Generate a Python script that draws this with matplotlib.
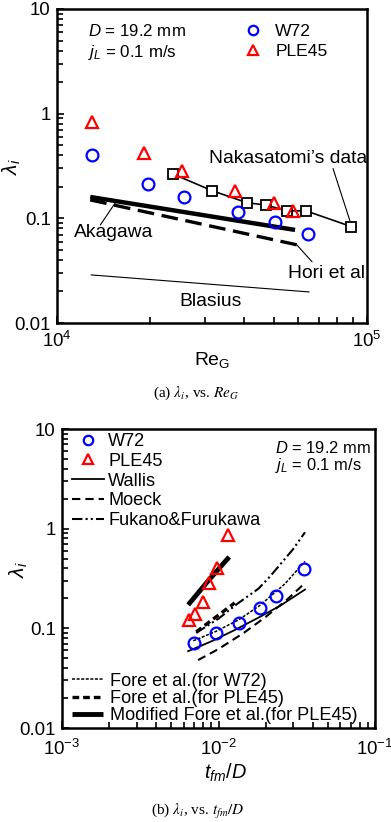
import numpy as np
import matplotlib
matplotlib.use("Agg")
import matplotlib.pyplot as plt
from matplotlib import font_manager
from matplotlib.ticker import FixedLocator, LogLocator, NullFormatter, FuncFormatter

# ---- panel (a): lambda_i vs Re_G ----
re_w72 = [1.30e4, 1.97e4, 2.57e4, 3.84e4, 5.05e4, 6.45e4]
lam_w72_a = [0.404, 0.212, 0.161, 0.114, 0.0916, 0.071]
re_ple45 = [1.30e4, 1.91e4, 2.53e4, 3.75e4, 5.0e4, 5.77e4]
lam_ple45_a = [0.84, 0.42, 0.286, 0.183, 0.139, 0.118]
re_naka = [2.37e4, 3.16e4, 4.1e4, 4.72e4, 5.52e4, 6.35e4, 8.9e4]
lam_naka = [0.265, 0.184, 0.141, 0.134, 0.118, 0.118, 0.0834]
re_akagawa = [1.28e4, 5.86e4]
lam_akagawa = [0.160, 0.0775]
re_hori = [1.28e4, 6.17e4]
lam_hori = [0.150, 0.0545]
re_blasius = [1.29e4, 6.50e4]
lam_blasius = [0.0288, 0.0198]

# ---- panel (b): lambda_i vs t_fm/D ----
tfm_w72 = [0.00697, 0.00964, 0.01352, 0.0184, 0.0233, 0.0352]
lam_w72_b = [0.0714, 0.090, 0.113, 0.160, 0.211, 0.394]
tfm_ple45 = [0.00649, 0.00708, 0.00796, 0.00869, 0.00977, 0.0115]
lam_ple45_b = [0.121, 0.139, 0.184, 0.285, 0.40, 0.865]
tfm_wallis = [0.0064, 0.009, 0.0125, 0.018, 0.025, 0.0357]
lam_wallis = [0.059, 0.074, 0.095, 0.128, 0.17, 0.245]
tfm_moeck = [0.0074, 0.010, 0.0145, 0.020, 0.027, 0.0357]
lam_moeck = [0.048, 0.062, 0.090, 0.13, 0.19, 0.285]
tfm_fukano = [0.0072, 0.0100, 0.0131, 0.018, 0.0213, 0.0299, 0.0357]
lam_fukano = [0.09, 0.125, 0.175, 0.25, 0.33, 0.62, 0.92]
tfm_fore_w72 = [0.0069, 0.0096, 0.0135, 0.0184, 0.0266, 0.0357]
lam_fore_w72 = [0.075, 0.093, 0.122, 0.17, 0.28, 0.47]
tfm_fore_ple45 = [0.0072, 0.0095, 0.0127]
lam_fore_ple45 = [0.092, 0.128, 0.18]
tfm_mod_fore = [0.0064, 0.0086, 0.0117]
lam_mod_fore = [0.172, 0.30, 0.52]

BLUE = "#0000ff"
RED = "#ff0000"

names = {f.name for f in font_manager.fontManager.ttflist}
if "Liberation Sans Narrow" in names:
    FONT, K = "Liberation Sans Narrow", 1.0
else:
    FONT, K = "Liberation Sans", 0.84

plt.rcParams.update({
    "font.family": [FONT, "DejaVu Sans"],
    "mathtext.fontset": "custom",
    "mathtext.rm": FONT,
    "mathtext.it": FONT + ":italic",
    "mathtext.sf": FONT,
    "mathtext.bf": FONT + ":bold",
})


def fs(pt):
    return pt * K


def style_axes(ax, xlim, xticks, xpad):
    ax.set_xscale("log")
    ax.set_yscale("log")
    ax.set_xlim(*xlim)
    ax.set_ylim(0.01, 10)
    for s in ax.spines.values():
        s.set_linewidth(1.8)
    ax.xaxis.set_major_locator(FixedLocator(xticks))
    ax.xaxis.set_minor_locator(LogLocator(base=10, subs=range(2, 10), numticks=30))
    ax.yaxis.set_major_locator(FixedLocator([0.01, 0.1, 1, 10]))
    ax.yaxis.set_minor_locator(LogLocator(base=10, subs=range(2, 10), numticks=30))
    ax.xaxis.set_major_formatter(FuncFormatter(
        lambda v, p: r"$\mathregular{10^{%d}}$" % round(np.log10(v))))
    ax.yaxis.set_major_formatter(FuncFormatter(lambda v, p: f"{v:g}"))
    ax.xaxis.set_minor_formatter(NullFormatter())
    ax.yaxis.set_minor_formatter(NullFormatter())
    ax.tick_params(which="both", direction="in", top=False, right=False, width=1.2)
    ax.tick_params(which="major", length=5)
    ax.tick_params(which="minor", length=4)
    ax.tick_params(axis="y", labelsize=fs(16), pad=4.5)
    ax.tick_params(axis="x", labelsize=fs(16), pad=xpad)


fig = plt.figure(figsize=(3.91, 8.22), dpi=100)
ax1 = fig.add_axes([57 / 391, 1 - 323 / 822, 310 / 391, 314 / 822])
ax2 = fig.add_axes([62 / 391, 1 - 728 / 822, 313 / 391, 299 / 822])

# ---------- (a) ----------
style_axes(ax1, (1e4, 1e5), [1e4, 1e5], 6)
ax1.plot(re_blasius, lam_blasius, color="k", lw=0.8)
ax1.plot(re_hori, lam_hori, color="k", lw=2.4, dashes=(5, 2.3))
ax1.plot(re_akagawa, lam_akagawa, color="k", lw=3.2, solid_capstyle="butt")
ax1.plot(re_naka, lam_naka, color="k", lw=1.2, marker="s", ms=7.5,
         mfc="white", mec="k", mew=1.3, zorder=3)
h_w72 = ax1.plot(re_w72, lam_w72_a, ls="none", marker="o", ms=8.5,
                 mfc="none", mec=BLUE, mew=1.6, zorder=4)[0]
h_ple = ax1.plot(re_ple45, lam_ple45_a, ls="none", marker="^", ms=8.5,
                 mfc="none", mec=RED, mew=1.6, zorder=4)[0]

ax1.legend([h_w72, h_ple], ["W72", "PLE45"], loc="center left",
           bbox_to_anchor=(0.605, 0.896), frameon=False, fontsize=fs(15),
           handlelength=1.0, handletextpad=0.75, labelspacing=0.25,
           markerscale=0.8, borderpad=0, borderaxespad=0)
ax1.text(0.100, 0.914, r"$D$ = 19.2 mm", transform=ax1.transAxes,
         fontsize=fs(14.5), va="baseline")
ax1.text(0.100, 0.847, r"$j_L$ = 0.1 m/s", transform=ax1.transAxes,
         fontsize=fs(14.5), va="baseline")

lead = dict(arrowstyle="-", lw=0.8, color="k", shrinkA=0, shrinkB=0)
ax1.text(0.490, 0.525, "Nakasatomi\u2019s data", transform=ax1.transAxes,
         fontsize=fs(16.5), va="center")
ax1.annotate("", xy=(8.81e4, 0.0945), xytext=(7.77e4, 0.299), arrowprops=lead)
ax1.text(0.055, 0.287, "Akagawa", transform=ax1.transAxes,
         fontsize=fs(16.5), va="center")
ax1.annotate("", xy=(1.54e4, 0.140), xytext=(1.38e4, 0.0865), arrowprops=lead)
ax1.text(0.745, 0.159, "Hori et al", transform=ax1.transAxes,
         fontsize=fs(16.5), va="center")
ax1.annotate("", xy=(5.94e4, 0.0557), xytext=(6.65e4, 0.0384), arrowprops=lead)
ax1.text(0.494, 0.067, "Blasius", transform=ax1.transAxes,
         fontsize=fs(16.5), va="center", ha="center")

fig.text(212 / 391, 1 - 360 / 822, r"Re$_\mathregular{G}$", fontsize=fs(16.5),
         ha="center", va="center")
fig.text(12 / 391, 1 - 167 / 822, r"$\lambda_i$", fontsize=fs(18),
         rotation=90, ha="center", va="center")
fig.text(0.501, 1 - 393 / 822, r"(a) $\lambda_i$, vs. $Re_G$",
         family="Liberation Serif", math_fontfamily="stix", fontsize=11,
         ha="center", va="center")

# ---------- (b) ----------
style_axes(ax2, (1e-3, 1e-1), [1e-3, 1e-2, 1e-1], 8)
l_wallis = ax2.plot(tfm_wallis, lam_wallis, color="k", lw=1.3)[0]
l_moeck = ax2.plot(tfm_moeck, lam_moeck, color="k", lw=1.5, dashes=(4, 2.4))[0]
l_fukano = ax2.plot(tfm_fukano, lam_fukano, color="k", lw=1.5,
                    dashes=(5, 1.5, 1, 1.5, 1, 1.5))[0]
l_fore_w = ax2.plot(tfm_fore_w72, lam_fore_w72, color="k", lw=1.1,
                    dashes=(2, 1))[0]
l_fore_p = ax2.plot(tfm_fore_ple45, lam_fore_ple45, color="k", lw=2.4,
                    dashes=(2, 1.2))[0]
l_mod = ax2.plot(tfm_mod_fore, lam_mod_fore, color="k", lw=3.5,
                 solid_capstyle="butt")[0]
h_w72b = ax2.plot(tfm_w72, lam_w72_b, ls="none", marker="o", ms=8.5,
                  mfc="none", mec=BLUE, mew=1.6, zorder=4)[0]
h_pleb = ax2.plot(tfm_ple45, lam_ple45_b, ls="none", marker="^", ms=8.5,
                  mfc="none", mec=RED, mew=1.6, zorder=4)[0]

leg1 = ax2.legend([h_w72b, h_pleb, l_wallis, l_moeck, l_fukano],
                  ["W72", "PLE45", "Wallis", "Moeck", "Fukano&Furukawa"],
                  loc="center left", bbox_to_anchor=(0.032, 0.826),
                  frameon=False, fontsize=fs(15.5), handlelength=1.77,
                  handletextpad=0.23, labelspacing=0.15, markerscale=0.8,
                  borderpad=0, borderaxespad=0)
ax2.add_artist(leg1)
ax2.legend([l_fore_w, l_fore_p, l_mod],
           ["Fore et al.(for W72)", "Fore et al.(for PLE45)",
            "Modified Fore et al.(for PLE45)"],
           loc="center left", bbox_to_anchor=(0.032, 0.099),
           frameon=False, fontsize=fs(15.5), handlelength=1.73,
           handletextpad=0.36, labelspacing=0.02,
           borderpad=0, borderaxespad=0)
ax2.text(0.681, 0.920, r"$D$ = 19.2 mm", transform=ax2.transAxes,
         fontsize=fs(14.2), va="baseline")
ax2.text(0.681, 0.863, r"$j_L$ = 0.1 m/s", transform=ax2.transAxes,
         fontsize=fs(14.2), va="baseline")

fig.text(225 / 391, 1 - 773 / 822, r"$t_{fm}/D$", fontsize=fs(17),
         ha="center", va="center")
fig.text(19 / 391, 1 - 570 / 822, r"$\lambda_i$", fontsize=fs(18),
         rotation=90, ha="center", va="center")
fig.text(0.506, 1 - 811 / 822, r"(b) $\lambda_i$, vs. $t_{fm}/D$",
         family="Liberation Serif", math_fontfamily="stix", fontsize=11,
         ha="center", va="center")

fig.savefig("out.png", dpi=100)
